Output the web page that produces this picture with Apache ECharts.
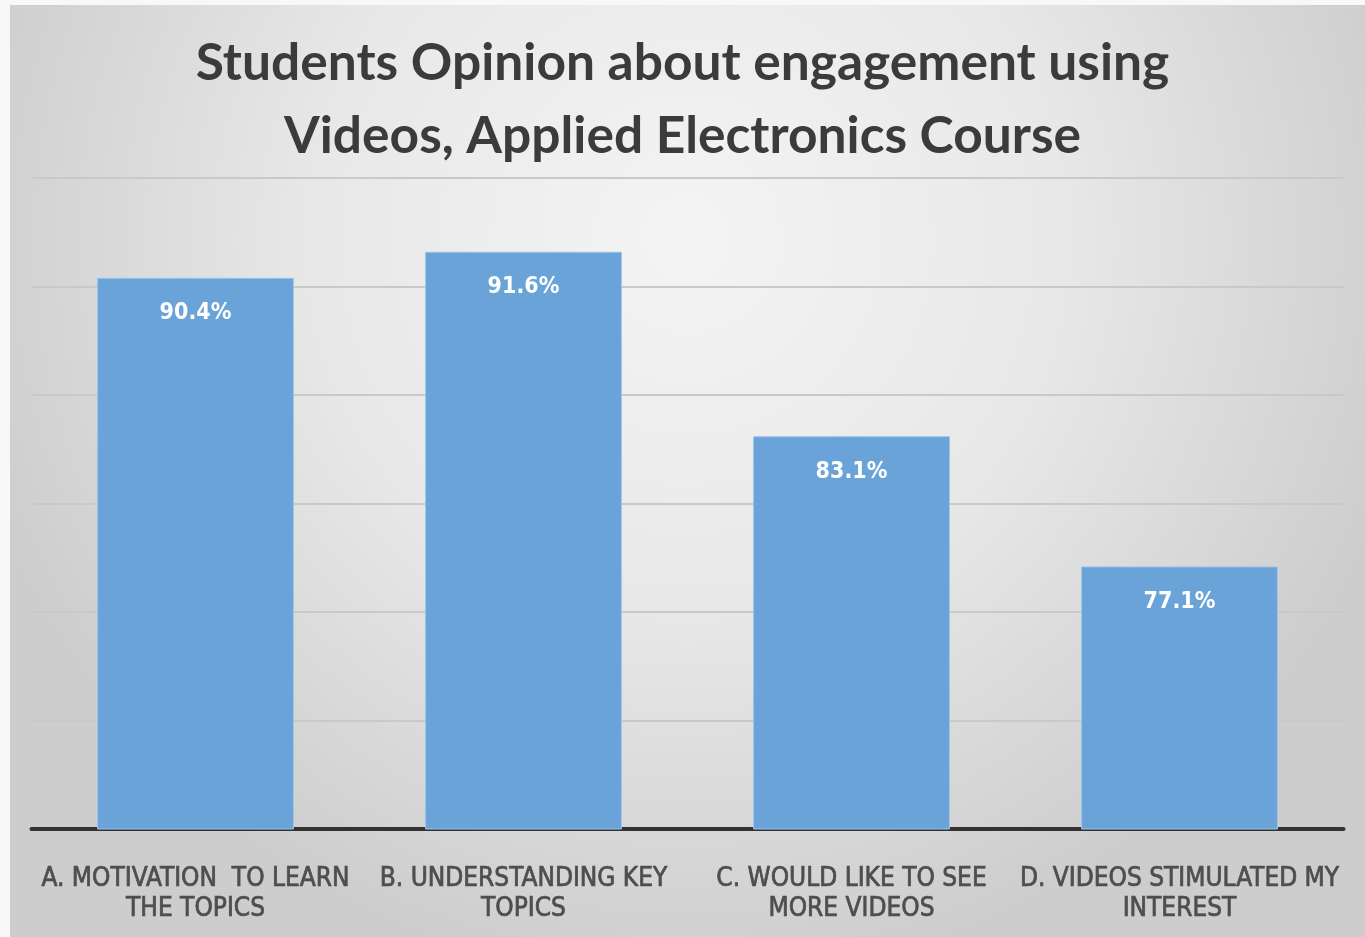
<!DOCTYPE html>
<html>
<head>
<meta charset="utf-8">
<script src="https://cdn.jsdelivr.net/npm/echarts@6/dist/echarts.min.js"></script>
<style>
  html, body { margin: 0; padding: 0; background: #f8f8fb; }
  #chart { width: 1365px; height: 937px; }
</style>
</head>
<body>
<div id="chart"></div>
<script>
// Survey answers shown as bars
const categories = [
  'A. MOTIVATION  TO LEARN\nTHE TOPICS',
  'B. UNDERSTANDING KEY\nTOPICS',
  'C. WOULD LIKE TO SEE\nMORE VIDEOS',
  'D. VIDEOS STIMULATED MY\nINTEREST'
];
const agreePercent = [90.4, 91.6, 83.1, 77.1];
const titleLines = [
  'Students Opinion about engagement using',
  'Videos, Applied Electronics Course'
];
const yMin = 65, yMax = 95, yStep = 5;

const narrow = '"Liberation Sans Narrow", "DejaVu Sans Condensed", "Roboto Condensed", sans-serif';

const chart = echarts.init(document.getElementById('chart'), null, { renderer: 'canvas' });
chart.setOption({
  animation: false,
  backgroundColor: 'transparent',
  graphic: [{
    type: 'rect',
    z: -10,
    silent: true,
    shape: { x: 10, y: 5, width: 1355, height: 932 },
    style: {
      fill: new echarts.graphic.RadialGradient(0.5, 0.25, 0.8, [
        { offset: 0, color: '#f4f4f4' },
        { offset: 0.5, color: '#e8e8e8' },
        { offset: 1, color: '#cdcdcd' }
      ])
    }
  }],
  title: {
    text: titleLines.join('\n'),
    left: 'center',
    top: 22,
    textStyle: {
      fontFamily: 'Lato, "Open Sans", sans-serif',
      fontWeight: 'bold',
      fontSize: 51.5,
      lineHeight: 73,
      color: '#3b3b3b'
    }
  },
  grid: { left: 31.5, right: 21.5, top: 178, bottom: 108, containLabel: false },
  xAxis: {
    type: 'category',
    data: categories,
    axisTick: { show: false },
    axisLine: { lineStyle: { color: '#333333', width: 4 } },
    axisLabel: {
      interval: 0,
      margin: 35,
      fontFamily: narrow,
      fontSize: 26,
      lineHeight: 30,
      color: '#4e4e4e',
      textBorderColor: '#4e4e4e',
      textBorderWidth: 0.7
    }
  },
  yAxis: {
    type: 'value',
    min: yMin,
    max: yMax,
    interval: yStep,
    axisLabel: { show: false },
    axisLine: { show: false },
    axisTick: { show: false },
    splitLine: { lineStyle: { color: '#c9c9c9', width: 2 } }
  },
  series: [{
    type: 'bar',
    data: agreePercent,
    barCategoryGap: '40%',
    itemStyle: { color: '#6aa3d8', borderColor: '#9cc4ea', borderWidth: 1 },
    label: {
      show: true,
      position: 'insideTop',
      distance: 24,
      formatter: p => p.value.toFixed(1) + '%',
      fontFamily: narrow,
      fontWeight: 'bold',
      fontSize: 23,
      color: '#ffffff'
    }
  }]
});
</script>
</body>
</html>
